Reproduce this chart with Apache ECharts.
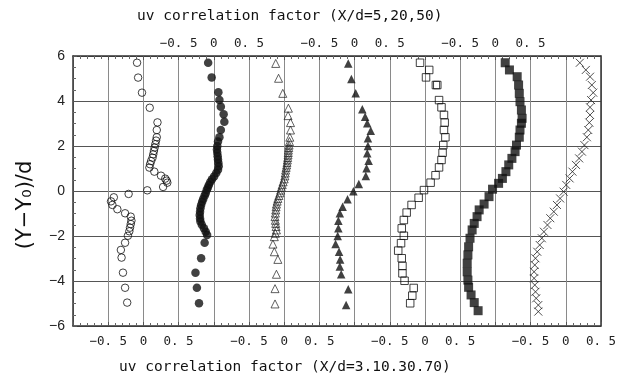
<!DOCTYPE html>
<html>
<head>
<meta charset="utf-8">
<script src="https://cdn.jsdelivr.net/npm/echarts@6/dist/echarts.min.js"></script>
<style>
html,body{margin:0;padding:0;background:#fff;}
#chart{width:619px;height:382px;}
</style>
</head>
<body>
<div id="chart"></div>
<script>
// ---- Data ----
// Each profile: Y positions ((Y-Y0)/d) and uv correlation factor values
const profileNames = ['X/d=3', 'X/d=5', 'X/d=10', 'X/d=20', 'X/d=30', 'X/d=50', 'X/d=70'];
// horizontal offset of each profile's zero line on the shared axis
const profileOffsets = [0, 1, 2, 3, 4, 5, 6];

const y_xd3 = [5.70,5.04,4.37,3.70,3.05,2.71,2.39,2.24,2.08,1.93,1.78,1.63,1.48,1.33,1.19,1.04,0.86,0.68,0.55,0.46,0.37,0.18,0.03,-0.13,-0.28,-0.46,-0.62,-0.81,-0.99,-1.14,-1.32,-1.47,-1.63,-1.79,-1.99,-2.30,-2.62,-2.96,-3.63,-4.30,-4.96];
const uv_xd3 = [-0.09,-0.075,-0.02,0.09,0.20,0.19,0.19,0.18,0.17,0.16,0.15,0.14,0.13,0.11,0.095,0.085,0.155,0.25,0.31,0.33,0.34,0.28,0.055,-0.21,-0.42,-0.46,-0.44,-0.37,-0.26,-0.18,-0.17,-0.18,-0.19,-0.20,-0.22,-0.26,-0.32,-0.31,-0.29,-0.26,-0.23];

const y_xd5 = [5.70,5.05,4.39,4.04,3.75,3.41,3.08,2.71,2.39,2.20,2.00,1.85,1.70,1.55,1.40,1.25,1.10,0.95,0.80,0.65,0.52,0.40,0.27,0.15,0.04,-0.10,-0.21,-0.35,-0.48,-0.62,-0.77,-0.92,-1.07,-1.22,-1.36,-1.50,-1.66,-1.81,-1.96,-2.30,-2.99,-3.63,-4.30,-4.99];
const uv_xd5 = [-0.08,-0.03,0.065,0.08,0.10,0.14,0.15,0.10,0.08,0.06,0.05,0.045,0.05,0.055,0.06,0.065,0.07,0.06,0.035,0.005,-0.025,-0.05,-0.07,-0.085,-0.10,-0.115,-0.13,-0.15,-0.165,-0.18,-0.19,-0.195,-0.20,-0.195,-0.19,-0.17,-0.14,-0.115,-0.095,-0.13,-0.18,-0.26,-0.24,-0.21];

const y_xd10 = [5.67,5.01,4.34,3.68,3.35,3.04,2.71,2.39,2.20,2.04,1.93,1.82,1.71,1.60,1.49,1.38,1.27,1.16,1.05,0.93,0.80,0.67,0.54,0.41,0.28,0.16,0.04,-0.08,-0.20,-0.33,-0.45,-0.58,-0.70,-0.84,-0.98,-1.14,-1.30,-1.44,-1.58,-1.73,-1.88,-2.03,-2.36,-2.70,-3.04,-3.70,-4.34,-5.02];
const uv_xd10 = [-0.12,-0.08,-0.02,0.06,0.055,0.09,0.09,0.08,0.075,0.07,0.065,0.06,0.058,0.055,0.05,0.045,0.04,0.035,0.028,0.02,0.015,0.01,0.0,-0.015,-0.028,-0.04,-0.05,-0.06,-0.075,-0.09,-0.10,-0.11,-0.115,-0.12,-0.125,-0.13,-0.125,-0.12,-0.115,-0.11,-0.125,-0.14,-0.16,-0.14,-0.09,-0.11,-0.13,-0.13];

const y_xd20 = [5.67,4.98,4.34,3.63,3.30,3.01,2.68,2.34,2.00,1.68,1.35,1.01,0.67,0.31,-0.01,-0.37,-0.70,-0.99,-1.32,-1.66,-2.00,-2.36,-2.70,-3.04,-3.36,-3.70,-4.37,-5.07];
const uv_xd20 = [-0.09,-0.045,0.016,0.11,0.15,0.18,0.23,0.19,0.19,0.18,0.20,0.17,0.16,0.06,-0.017,-0.10,-0.17,-0.21,-0.23,-0.23,-0.24,-0.27,-0.22,-0.205,-0.21,-0.19,-0.09,-0.12];

const y_xd30 = [5.70,5.38,5.05,4.71,4.71,4.04,3.72,3.38,3.04,2.71,2.39,2.04,1.70,1.38,1.05,0.70,0.37,0.04,-0.30,-0.62,-0.96,-1.29,-1.66,-1.99,-2.32,-2.65,-2.99,-3.33,-3.66,-3.99,-4.31,-4.65,-4.99];
const uv_xd30 = [-0.07,0.06,0.015,0.155,0.175,0.20,0.235,0.27,0.28,0.27,0.29,0.26,0.25,0.235,0.20,0.15,0.08,-0.014,-0.09,-0.19,-0.26,-0.30,-0.33,-0.30,-0.34,-0.38,-0.33,-0.32,-0.32,-0.29,-0.16,-0.18,-0.21];

const y_xd50 = [5.70,5.38,5.08,4.71,4.34,3.97,3.60,3.23,3.01,2.71,2.39,2.04,1.75,1.45,1.16,0.86,0.56,0.34,0.08,-0.25,-0.58,-0.84,-1.14,-1.44,-1.73,-2.10,-2.48,-2.84,-3.21,-3.59,-3.96,-4.28,-4.62,-4.96,-5.32];
const uv_xd50 = [0.14,0.20,0.31,0.33,0.34,0.35,0.37,0.38,0.37,0.35,0.34,0.30,0.28,0.235,0.19,0.15,0.10,0.046,-0.04,-0.09,-0.16,-0.23,-0.26,-0.30,-0.33,-0.36,-0.38,-0.39,-0.40,-0.40,-0.39,-0.38,-0.345,-0.30,-0.245];

const y_xd70 = [5.70,5.38,5.08,4.71,4.37,4.04,3.72,3.38,3.04,2.71,2.39,2.04,1.75,1.45,1.16,0.86,0.56,0.27,-0.03,-0.33,-0.62,-0.92,-1.21,-1.51,-1.81,-2.10,-2.40,-2.70,-2.99,-3.29,-3.59,-3.88,-4.18,-4.48,-4.77,-5.07,-5.36];
const uv_xd70 = [0.20,0.285,0.345,0.37,0.39,0.36,0.345,0.345,0.335,0.32,0.30,0.265,0.23,0.19,0.145,0.095,0.055,0.007,-0.03,-0.08,-0.125,-0.17,-0.22,-0.26,-0.31,-0.34,-0.37,-0.405,-0.43,-0.44,-0.45,-0.45,-0.44,-0.43,-0.42,-0.39,-0.39];

// tick labels
const bottomTickLabels = ['-0.5', '0', '0.5'];   // under profiles X/d=3,10,30,70
const topTickLabels = ['-0.5', '0', '0.5'];      // above profiles X/d=5,20,50
const yTicks = [-6, -4, -2, 0, 2, 4, 6];
const bottomTitle = 'uv correlation factor (X/d=3.10.30.70)';
const topTitle = 'uv correlation factor (X/d=5,20,50)';
const yTitle = '(Y\u2212Y\u2080)/d';

const yList = [y_xd3, y_xd5, y_xd10, y_xd20, y_xd30, y_xd50, y_xd70];
const uvList = [uv_xd3, uv_xd5, uv_xd10, uv_xd20, uv_xd30, uv_xd50, uv_xd70];

// ---- Styles ----
const crossPath = 'path://M0,0L10,10M10,0L0,10';
const styles = [
  {symbol: 'circle', size: 7.5, item: {color: 'rgba(0,0,0,0)', borderColor: '#111', borderWidth: 1}},
  {symbol: 'circle', size: 8.5, item: {color: '#111', borderColor: '#111', borderWidth: 0}},
  {symbol: 'triangle', size: 8, item: {color: 'rgba(0,0,0,0)', borderColor: '#222', borderWidth: 0.9}},
  {symbol: 'triangle', size: 8.5, item: {color: '#111', borderColor: '#111', borderWidth: 0}},
  {symbol: 'rect', size: 7.5, item: {color: 'rgba(0,0,0,0)', borderColor: '#111', borderWidth: 1}},
  {symbol: 'rect', size: 9, item: {color: '#111', borderColor: '#111', borderWidth: 0}},
  {symbol: crossPath, size: 8, item: {color: 'none', borderColor: '#222', borderWidth: 1}}
];

const series = yList.map((ys, i) => ({
  name: profileNames[i],
  type: 'scatter',
  xAxisIndex: 0,
  yAxisIndex: 0,
  symbol: styles[i].symbol,
  symbolSize: styles[i].size,
  itemStyle: styles[i].item,
  data: ys.map((y, k) => [uvList[i][k] + profileOffsets[i], y]),
  silent: true,
  animation: false
}));

function fmtNum(s) { return s.replace('-', '\u2212').replace('.', '. '); }

function bottomFmt(u) {
  const base = Math.round(u / 2) * 2;
  const r = Math.round((u - base) * 10) / 10;
  const idx = [-0.5, 0, 0.5].indexOf(r);
  if (idx < 0) return '';
  return fmtNum(bottomTickLabels[idx]);
}
function topFmt(u) {
  if (u < 0.4 || u > 5.6) return '';
  const base = Math.round((u - 1) / 2) * 2 + 1;
  const r = Math.round((u - base) * 10) / 10;
  const idx = [-0.5, 0, 0.5].indexOf(r);
  if (idx < 0) return '';
  return fmtNum(topTickLabels[idx]);
}

const monoFont = '"DejaVu Sans Mono", monospace';
const axisLineColor = '#333';
const gridColor = '#8a8a8a';

const xCommon = {
  type: 'value', min: -1, max: 6.5, interval: 0.5,
  axisLine: {show: true, onZero: false, lineStyle: {color: axisLineColor, width: 1.5}},
  axisTick: {show: true, inside: true, length: 4, lineStyle: {color: '#555'}},
  minorTick: {show: true, splitNumber: 5, length: 3, lineStyle: {color: '#666'}},
  splitLine: {show: true, lineStyle: {color: gridColor, width: 1}},
  axisLabel: {showMinLabel: true, showMaxLabel: true, hideOverlap: false, color: '#222', fontFamily: monoFont, fontSize: 12.5}
};

const option = {
  animation: false,
  backgroundColor: '#fff',
  grid: {left: 73, right: 13, top: 56, bottom: 56, containLabel: false},
  xAxis: [
    Object.assign({}, xCommon, {position: 'bottom', axisLabel: Object.assign({}, xCommon.axisLabel, {margin: 9, formatter: bottomFmt})}),
    Object.assign({}, xCommon, {position: 'top', splitLine: {show: false}, axisLabel: Object.assign({}, xCommon.axisLabel, {margin: 6, formatter: topFmt})})
  ],
  yAxis: [
    {
      type: 'value', min: -6, max: 6, interval: 2, position: 'left',
      axisLine: {show: true, onZero: false, lineStyle: {color: axisLineColor, width: 1.5}},
      axisTick: {show: true, inside: true, length: 4, lineStyle: {color: '#555'}},
      minorTick: {show: true, splitNumber: 4, length: 3, lineStyle: {color: '#666'}},
      splitLine: {show: true, lineStyle: {color: '#555', width: 1}},
      axisLabel: {color: '#222', fontFamily: '"Liberation Sans", Arial, sans-serif', fontSize: 14, margin: 8,
        formatter: v => yTicks.indexOf(v) >= 0 ? String(v).replace('-', '\u2212') : ''}
    },
    {
      type: 'value', min: -6, max: 6, interval: 2, position: 'right',
      axisLine: {show: true, onZero: false, lineStyle: {color: axisLineColor, width: 1.5}},
      axisTick: {show: false}, axisLabel: {show: false}, splitLine: {show: false}
    }
  ],
  graphic: [
    {type: 'text', left: 137, top: 9, style: {text: topTitle, font: '14.5px "DejaVu Sans Mono", monospace', fill: '#111'}},
    {type: 'text', left: 119, top: 360, style: {text: bottomTitle, font: '14.5px "DejaVu Sans Mono", monospace', fill: '#111'}},
    {type: 'text', x: 26, y: 205, rotation: Math.PI / 2,
      style: {text: yTitle, font: '21px "DejaVu Sans", sans-serif', fill: '#111', align: 'center', verticalAlign: 'middle'}}
  ],
  series: series
};

const chart = echarts.init(document.getElementById('chart'), null, {renderer: 'canvas'});
chart.setOption(option);
</script>
</body>
</html>
